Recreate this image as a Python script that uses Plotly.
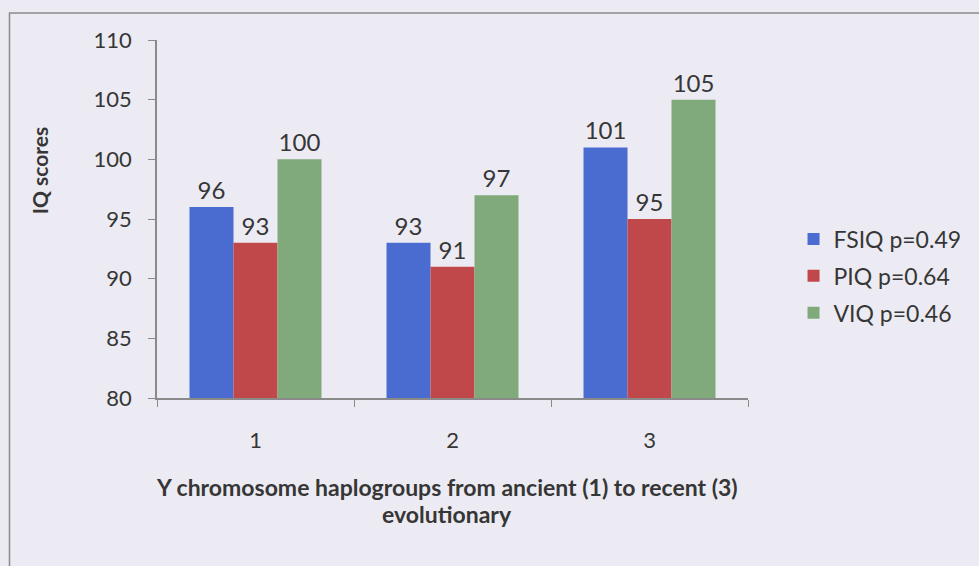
import plotly.graph_objects as go

# Haplogroup categories and mean IQ scores per subtest
haplogroups = ["1", "2", "3"]
fsiq = [96, 93, 101]
piq = [93, 91, 95]
viq = [100, 97, 105]
series_names = ["FSIQ p=0.49", "PIQ p=0.64", "VIQ p=0.46"]
y_ticks = [80, 85, 90, 95, 100, 105, 110]

colors = ["#4A6BD0", "#C0474A", "#80AA7B"]
bg = "#ECEBF3"
text_color = "#363636"
font_family = "Lato, 'Open Sans', sans-serif"

fig = go.Figure()
for i, (name, vals) in enumerate(zip(series_names, [fsiq, piq, viq])):
    fig.add_trace(go.Bar(
        x=haplogroups, y=vals, name=name,
        marker=dict(color=colors[i], line=dict(width=0)),
        text=[str(v) for v in vals], textposition="outside",
        textfont=dict(size=24, color=text_color, family=font_family),
        cliponaxis=False, legendgroup=name,
    ))

W, H = 979, 566
L, R, T, B = 157, 225, 40, 168
pw, ph = W - L - R, H - T - B

def px_x(x):
    return (x - L) / pw

def px_y(y):
    return (H - B - y) / ph

fig.update_layout(
    width=W, height=H,
    margin=dict(l=L, r=R, t=T, b=B),
    paper_bgcolor=bg, plot_bgcolor=bg,
    barmode="group", bargap=0.33, bargroupgap=0,
    font=dict(family=font_family, size=22, color=text_color),
    showlegend=True,
    legend=dict(
        x=px_x(800), y=px_y(276), xanchor="left", yanchor="middle",
        bgcolor="rgba(0,0,0,0)", font=dict(size=23, color=text_color),
        tracegroupgap=4,
    ),
    xaxis=dict(
        type="category", tickson="boundaries", ticks="outside", ticklen=7,
        tickcolor="#8a8a8a", showline=True, linecolor="#8a8a8a", linewidth=1.5,
        showgrid=False, zeroline=False, ticklabelstandoff=22,
        tickfont=dict(size=22, color=text_color),
    ),
    yaxis=dict(
        range=[80, 110], tickvals=y_ticks, ticks="outside", ticklen=7,
        tickcolor="#8a8a8a", showline=True, linecolor="#8a8a8a", linewidth=1.5,
        showgrid=False, zeroline=False, ticklabelstandoff=12,
        tickfont=dict(size=22, color=text_color),
    ),
    annotations=[
        dict(text="<b>IQ scores</b>", textangle=-90, xref="paper", yref="paper",
             x=px_x(38), y=px_y(170), xanchor="center", yanchor="middle",
             showarrow=False, font=dict(size=21, color=text_color)),
        dict(text="<b>Y chromosome haplogroups from ancient (1) to recent (3)</b>",
             xref="paper", yref="paper", x=px_x(450), y=px_y(487),
             xanchor="center", yanchor="middle", showarrow=False,
             font=dict(size=23, color=text_color)),
        dict(text="<b>evolutionary</b>",
             xref="paper", yref="paper", x=px_x(450), y=px_y(514),
             xanchor="center", yanchor="middle", showarrow=False,
             font=dict(size=23, color=text_color)),
    ],
    shapes=[
        dict(type="rect", xref="paper", yref="paper",
             x0=px_x(8), y0=px_y(700), x1=px_x(1100), y1=px_y(13),
             line=dict(color="#8a8a8a", width=1.5), fillcolor="rgba(0,0,0,0)",
             layer="below"),
    ],
)

fig.write_html("out.html")
